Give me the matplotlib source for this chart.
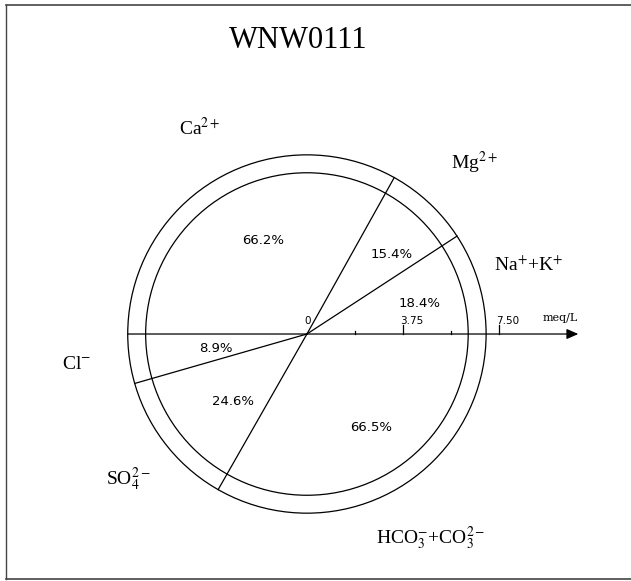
import numpy as np
import matplotlib
matplotlib.use('Agg')
import matplotlib.pyplot as plt
from matplotlib.patches import Circle
from matplotlib.lines import Line2D

plt.rcParams['mathtext.fontset'] = 'stix'

# Sample and ion composition (percent of meq/L)
title = 'WNW0111'
cation_labels = ['Ca$^{2+}$', 'Mg$^{2+}$', 'Na$^{+}$+K$^{+}$']
cation_pct = [66.2, 15.4, 18.4]
anion_labels = ['Cl$^{-}$', 'SO$_4^{2-}$', 'HCO$_3^{-}$+CO$_3^{2-}$']
anion_pct = [8.9, 24.6, 66.5]

# circle radius = total concentration, outer ring drawn a bit wider
total_meq = 6.3
ring_meq = 7.0

# scale along the horizontal axis
major_ticks = [0, 3.75, 7.50]
major_labels = ['0', '3.75', '7.50']
minor_ticks = [1.875, 5.625]
axis_end = 10.6

# label placement (meq/L units around the centre)
cation_label_xy = [(-4.18, 8.05), (6.56, 6.68), (8.67, 2.70)]
anion_label_xy = [(-8.98, -1.21), (-6.99, -5.66), (4.84, -7.97)]
cation_pct_xy = [(-1.72, 3.67), (3.32, 3.09), (4.41, 1.21)]
anion_pct_xy = [(-3.55, -0.55), (-2.89, -2.62), (2.50, -3.67)]

fig = plt.figure(figsize=(6.31, 5.81), dpi=100)
ax = fig.add_axes([0, 0, 1, 1])
ax.set_xlim(-11.99, 12.66)
ax.set_ylim(-9.65, 13.05)
ax.axis('off')

lw = 0.9

# circles
ax.add_patch(Circle((0, 0), total_meq, fill=False, lw=lw, color='black'))
ax.add_patch(Circle((0, 0), ring_meq, fill=False, lw=lw, color='black'))

# sector boundaries: cations on top (clockwise from left), anions below
cation_bounds = 180 - np.cumsum(cation_pct)[:-1] * 1.8
anion_bounds = 180 + np.cumsum(anion_pct)[:-1] * 1.8
for ang in np.concatenate([cation_bounds, anion_bounds]):
    a = np.deg2rad(ang)
    ax.plot([0, ring_meq * np.cos(a)], [0, ring_meq * np.sin(a)], color='black', lw=lw)

# horizontal axis with arrow
ax.annotate('', xy=(axis_end, 0), xytext=(-ring_meq, 0),
            arrowprops=dict(arrowstyle='-|>,head_length=0.5,head_width=0.22',
                            color='black', lw=lw, shrinkA=0, shrinkB=0,
                            mutation_scale=14))
for t, lab in zip(major_ticks, major_labels):
    if t > 0:
        ax.plot([t, t], [0, 0.35], color='black', lw=lw)
    ax.text(t - 0.1, 0.3, lab, fontsize=7.5, ha='left', va='bottom')
for t in minor_ticks:
    ax.plot([t, t], [0, 0.12], color='black', lw=lw)
ax.text(9.88, 0.63, 'meq/L', fontsize=8, family='DejaVu Serif', ha='center', va='center')

# percentage labels
for p, (x, y) in zip(cation_pct + anion_pct, cation_pct_xy + anion_pct_xy):
    ax.text(x, y, '{:.1f}%'.format(p), fontsize=9.5, ha='center', va='center')

# ion names
for lab, (x, y) in zip(cation_labels + anion_labels, cation_label_xy + anion_label_xy):
    ax.text(x, y, lab, fontsize=14, family='Liberation Serif', ha='center', va='center')

ax.text(-0.35, 11.45, title, fontsize=22, family='Liberation Serif', ha='center', va='center')

# frame around the picture (right edge is cut off in the scan)
frame_color = '#444444'
fig.add_artist(Line2D([6 / 631, 1], [1 - 5 / 581, 1 - 5 / 581], color=frame_color, lw=1.2))
fig.add_artist(Line2D([6 / 631, 1], [1 - 579 / 581, 1 - 579 / 581], color=frame_color, lw=1.2))
fig.add_artist(Line2D([6 / 631, 6 / 631], [1 - 5 / 581, 1 - 579 / 581], color=frame_color, lw=1.0))

fig.savefig('out.png', dpi=100)
